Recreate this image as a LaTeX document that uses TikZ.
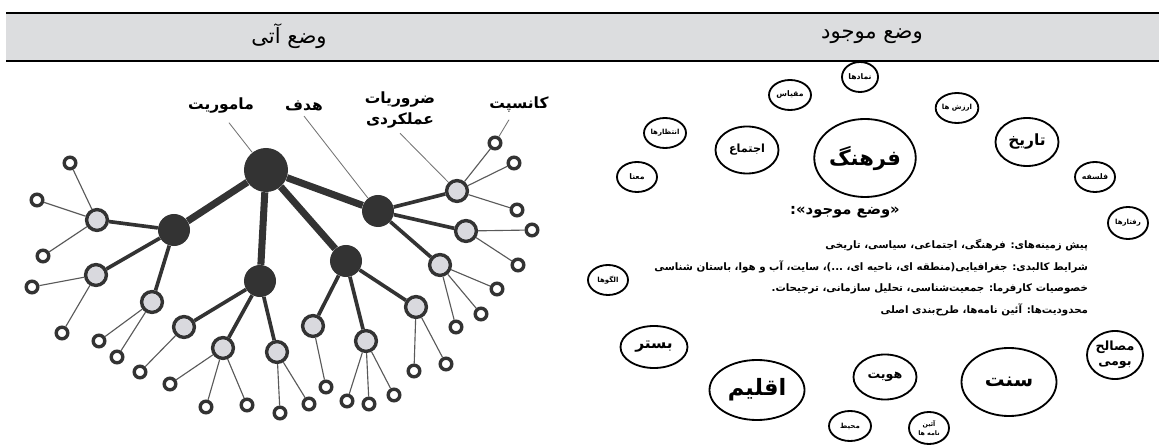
\documentclass[tikz,border=0pt]{standalone}
\usepackage{fontspec}
\newfontfamily\fa[Script=Arabic]{DejaVu Sans}
\TeXXeTstate=1
\newcommand{\farsi}[1]{\beginR #1\endR}
\usetikzlibrary{shapes.geometric}
\definecolor{ink}{HTML}{333333}
\definecolor{budgray}{HTML}{D9D9DE}
\definecolor{bandgray}{HTML}{DCDDDF}

\begin{document}
\begin{tikzpicture}[x=0.025cm, y=-0.025cm,
    every node/.style={font=\fa},
    hub/.style={circle, fill=ink, inner sep=0pt, minimum size=0.8cm},
    bud/.style={circle, draw=ink, line width=2.4pt, fill=budgray, inner sep=0pt, minimum size=0.52cm},
    leaf/.style={circle, draw=ink, line width=2.4pt, fill=white, inner sep=0pt, minimum size=0.29cm},
    trunk/.style={ink, line width=5pt},
    limb/.style={ink, line width=2.6pt},
    twig/.style={black!65, line width=0.8pt},
    leader/.style={black!55, line width=0.6pt},
    bubble/.style={ellipse, draw, line width=1.3pt, inner sep=0pt, align=center}]
    \useasboundingbox (0,0) rectangle (1159,445);

    % Header band
    \fill[bandgray] (6,13) rectangle (1159,61);
    \draw[line width=1.5pt] (6,13) -- (1159,13);
    \draw[line width=1.5pt] (6,61) -- (1159,61);
    \node[font=\fa\fontsize{15}{17}\selectfont] (headfuture) at (289,36) {\farsi{وضع آتی}};
    \node[font=\fa\fontsize{15}{17}\selectfont] (headnow) at (872,36) {\farsi{وضع موجود}};

    % Tree: root and hubs
    \node[hub, minimum size=1.1cm] (root) at (266,170) {};
    \foreach \n/\x/\y in {hL/174/230, hM/260/281, hN/346/261, hR/378/211} {
        \node[hub] (\n) at (\x,\y) {};
        \draw[trunk] (root) -- (\n);
    }

    % Tree: grey buds
    \foreach \p/\n/\x/\y in {hL/gL1/97/220, hL/gL2/96/275, hL/gL3/152/302,
            hM/gM1/184/327, hM/gM2/223/348, hM/gM3/277/352,
            hN/gN1/313/326, hN/gN2/366/341, hN/gN3/416/307,
            hR/gR1/457/191, hR/gR2/466/231, hR/gR3/440/265} {
        \node[bud] (\n) at (\x,\y) {};
        \draw[limb] (\p) -- (\n);
    }

    % Tree: leaves
    \foreach \p/\x/\y [count=\i] in {gL1/70/163, gL1/37/200, gL1/43/256,
            gL2/32/287, gL2/62/333, gL3/99/341, gL3/117/357,
            gM1/140/372, gM2/170/384, gM2/206/407, gM2/247/405,
            gM3/280/413, gM3/309/404, gN1/326/387,
            gN2/347/401, gN2/369/404, gN2/394/395, gN3/414/371, gN3/446/364,
            gR1/495/143, gR1/514/163, gR1/517/210, gR2/532/230, gR2/518/265,
            gR3/497/289, gR3/481/314, gR3/456/327} {
        \node[leaf] (lf\i) at (\x,\y) {};
        \draw[twig] (\p) -- (lf\i);
    }

    % Tree labels
    \node[font=\fa\bfseries\fontsize{11}{13}\selectfont] (mission) at (221,106) {\farsi{ماموریت}};
    \node[font=\fa\bfseries\fontsize{11}{13}\selectfont] (goal) at (304,106) {\farsi{هدف}};
    \node[font=\fa\bfseries\fontsize{11}{15}\selectfont, align=center] (needs) at (400,110) {\farsi{ضروریات}\\\farsi{عملکردی}};
    \node[font=\fa\bfseries\fontsize{11}{13}\selectfont] (concept) at (519,105) {\farsi{کانسپت}};
    \draw[leader] (mission.south) ++(8,4) -- (root);
    \draw[leader] (goal.south) -- (hR);
    \draw[leader] (needs.south) -- (gR1);
    \draw[leader] (concept.south) ++(-10,2) -- (lf20);

    % Bubbles of the current state
    \node[bubble, minimum width=0.9cm, minimum height=0.75cm, font=\fa\bfseries\fontsize{5.5}{6}\selectfont] (namad) at (860,77) {\farsi{نمادها}};
    \node[bubble, minimum width=1.05cm, minimum height=0.75cm, font=\fa\bfseries\fontsize{5.5}{6}\selectfont] (meghyas) at (790,95) {\farsi{مقیاس}};
    \node[bubble, minimum width=1.05cm, minimum height=0.75cm, font=\fa\bfseries\fontsize{5}{6}\selectfont] (arzesh) at (957,108) {\farsi{ارزش ها}};
    \node[bubble, minimum width=1.05cm, minimum height=0.75cm, font=\fa\bfseries\fontsize{5}{6}\selectfont] (entezar) at (665,133) {\farsi{انتظارها}};
    \node[bubble, minimum width=1.575cm, minimum height=1.175cm, font=\fa\bfseries\fontsize{8}{9}\selectfont] (ejtema) at (747,150) {\farsi{اجتماع}};
    \node[bubble, minimum width=2.5cm, minimum height=1.95cm, font=\fa\bfseries\fontsize{15}{17}\selectfont] (farhang) at (865,158) {\farsi{فرهنگ}};
    \node[bubble, minimum width=1.575cm, minimum height=1.2cm, font=\fa\bfseries\fontsize{11}{12}\selectfont] (tarikh) at (1027,142) {\farsi{تاریخ}};
    \node[bubble, minimum width=1.0cm, minimum height=0.75cm, font=\fa\bfseries\fontsize{5.5}{6}\selectfont] (mana) at (637,177) {\farsi{معنا}};
    \node[bubble, minimum width=1.0cm, minimum height=0.75cm, font=\fa\bfseries\fontsize{5.5}{6}\selectfont] (falsafe) at (1095,177) {\farsi{فلسفه}};
    \node[bubble, minimum width=1.0cm, minimum height=0.8cm, font=\fa\bfseries\fontsize{5}{6}\selectfont] (raftar) at (1128,223) {\farsi{رفتارها}};
    \node[bubble, minimum width=1.0cm, minimum height=0.75cm, font=\fa\bfseries\fontsize{5}{6}\selectfont] (olgu) at (608,280) {\farsi{الگوها}};
    \node[bubble, minimum width=1.675cm, minimum height=1.05cm, font=\fa\bfseries\fontsize{11}{12}\selectfont] (bastar) at (654,347) {\farsi{بستر}};
    \node[bubble, minimum width=2.375cm, minimum height=1.5cm, font=\fa\bfseries\fontsize{16}{18}\selectfont] (eghlim) at (757,390) {\farsi{اقلیم}};
    \node[bubble, minimum width=1.575cm, minimum height=1.125cm, font=\fa\bfseries\fontsize{9}{10}\selectfont] (hoviat) at (885,377) {\farsi{هویت}};
    \node[bubble, minimum width=2.375cm, minimum height=1.7cm, font=\fa\bfseries\fontsize{14}{16}\selectfont] (sonnat) at (1009,382) {\farsi{سنت}};
    \node[bubble, minimum width=1.4cm, minimum height=1.2cm, font=\fa\bfseries\fontsize{9}{11}\selectfont] (masaleh) at (1115,355) {\farsi{مصالح}\\\farsi{بومی}};
    \node[bubble, minimum width=1.05cm, minimum height=0.75cm, font=\fa\bfseries\fontsize{5}{6}\selectfont] (mohit) at (850,426) {\farsi{محیط}};
    \node[bubble, minimum width=1.0cm, minimum height=0.8cm, font=\fa\bfseries\fontsize{4.5}{6}\selectfont] (aein) at (929,428) {\farsi{آئین}\\\farsi{نامه ها}};

    % Description of the current state
    \node[font=\fa\bfseries\fontsize{10.5}{12}\selectfont] (nowtitle) at (845,212) {\farsi{«وضع موجود»:}};
    \node[anchor=east, font=\fa\bfseries\fontsize{7.3}{9}\selectfont] (line1) at (1093,245) {\farsi{پیش زمینه‌های: فرهنگی، اجتماعی، سیاسی، تاریخی}};
    \node[anchor=east, font=\fa\bfseries\fontsize{7.3}{9}\selectfont] (line2) at (1093,267) {\farsi{شرایط کالبدی: جغرافیایی(منطقه ای، ناحیه ای، ...)، سایت، آب و هوا، باستان شناسی}};
    \node[anchor=east, font=\fa\bfseries\fontsize{7.3}{9}\selectfont] (line3) at (1093,289) {\farsi{خصوصیات کارفرما: جمعیت‌شناسی، تحلیل سازمانی، ترجیحات.}};
    \node[anchor=east, font=\fa\bfseries\fontsize{7.3}{9}\selectfont] (line4) at (1093,310) {\farsi{محدودیت‌ها: آئین نامه‌ها، طرح‌بندی اصلی}};
\end{tikzpicture}
\end{document}
